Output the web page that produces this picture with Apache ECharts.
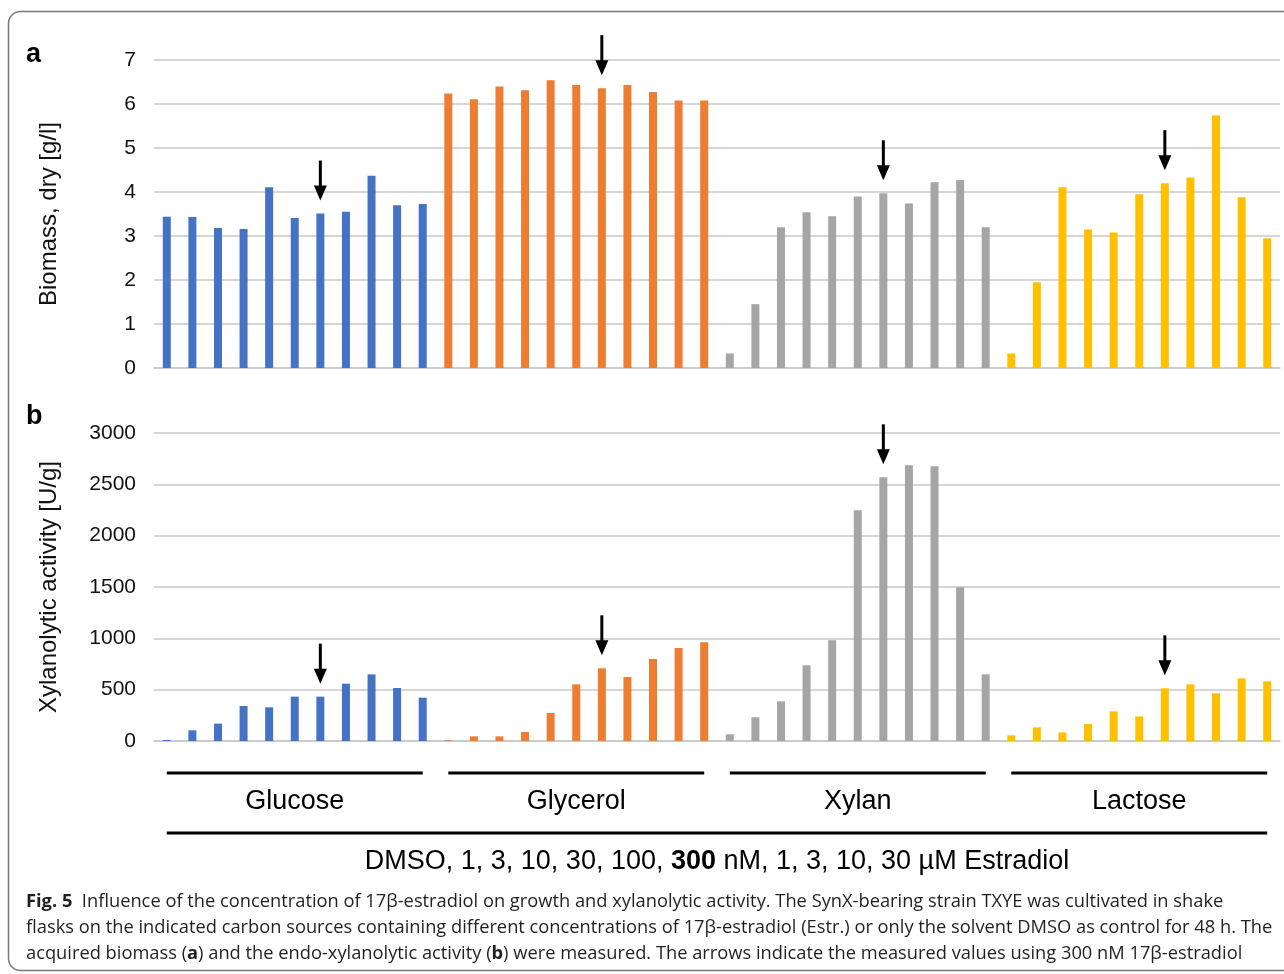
<!DOCTYPE html>
<html>
<head>
<meta charset="utf-8">
<script src="https://cdn.jsdelivr.net/npm/echarts@6/dist/echarts.min.js"></script>
<style>
  html, body { margin: 0; padding: 0; background: #fff; }
  #chart { width: 1284px; height: 974px; }
</style>
</head>
<body>
<div id="chart"></div>
<script>
// carbon sources and estradiol concentrations
const groups = ['Glucose', 'Glycerol', 'Xylan', 'Lactose'];
const concentrations = ['DMSO', '1 nM', '3 nM', '10 nM', '30 nM', '100 nM', '300 nM', '1 µM', '3 µM', '10 µM', '30 µM'];
const groupColors = ['#4472C4', '#ED7D31', '#A5A5A5', '#FFC000'];

// a) biomass, dry [g/l]
const biomassGlucose  = [3.44, 3.43, 3.18, 3.16, 4.11, 3.41, 3.51, 3.55, 4.37, 3.70, 3.73];
const biomassGlycerol = [6.24, 6.11, 6.40, 6.31, 6.54, 6.43, 6.36, 6.43, 6.27, 6.08, 6.08];
const biomassXylan    = [0.33, 1.45, 3.20, 3.54, 3.45, 3.90, 3.97, 3.74, 4.22, 4.27, 3.20];
const biomassLactose  = [0.33, 1.95, 4.11, 3.15, 3.08, 3.95, 4.20, 4.33, 5.74, 3.88, 2.95];

// b) xylanolytic activity [U/g]
const activityGlucose  = [10, 104, 169, 341, 328, 432, 432, 558, 649, 516, 422];
const activityGlycerol = [8, 45, 45, 88, 273, 552, 708, 623, 799, 906, 961];
const activityXylan    = [65, 231, 386, 737, 981, 2247, 2568, 2685, 2675, 1497, 649];
const activityLactose  = [55, 133, 84, 166, 289, 240, 513, 552, 464, 610, 581];

const biomassTicks = [0, 1, 2, 3, 4, 5, 6, 7];
const activityTicks = [0, 500, 1000, 1500, 2000, 2500, 3000];

const categories = [];
groups.forEach(g => concentrations.forEach(c => categories.push(g + ' ' + c)));
const biomass = [].concat(biomassGlucose, biomassGlycerol, biomassXylan, biomassLactose);
const activity = [].concat(activityGlucose, activityGlycerol, activityXylan, activityLactose);
const n = concentrations.length;
const markIdx = concentrations.indexOf('300 nM');

const arrowData = vals => groups.map((g, gi) => [gi * n + markIdx, vals[gi * n + markIdx]]);

const font = 'Liberation Sans, Arial, sans-serif';
const chart = echarts.init(document.getElementById('chart'));

function arrowItem(params, api) {
    const p = api.coord([api.value(0), api.value(1)]);
    const tip = p[1] - 13;
    return {
        type: 'group',
        children: [
            { type: 'line', shape: { x1: p[0], y1: tip - 40, x2: p[0], y2: tip - 12 }, style: { stroke: '#000', lineWidth: 3 } },
            { type: 'polygon', shape: { points: [[p[0] - 6.5, tip - 15], [p[0] + 6.5, tip - 15], [p[0], tip]] }, style: { fill: '#000' } }
        ]
    };
}

function yAxisFor(idx, name, ticks) {
    return {
        type: 'value',
        gridIndex: idx,
        min: ticks[0],
        max: ticks[ticks.length - 1],
        interval: ticks[1] - ticks[0],
        name: name,
        nameLocation: 'middle',
        nameGap: 93,
        nameTextStyle: { fontFamily: font, fontSize: 24, color: '#111' },
        axisLine: { show: false },
        axisTick: { show: false },
        axisLabel: { fontFamily: font, fontSize: 21, color: '#111', margin: 18, formatter: v => String(v) },
        splitLine: { lineStyle: { color: '#c8c8c8', width: 1.5 } }
    };
}

function xAxisFor(idx) {
    return {
        type: 'category',
        gridIndex: idx,
        data: categories,
        axisLine: { show: true, lineStyle: { color: '#c8c8c8', width: 1.5 } },
        axisTick: { show: false },
        axisLabel: { show: false }
    };
}

const colorOf = p => groupColors[Math.floor(p.dataIndex / n)];

chart.setOption({
    animation: false,
    grid: [
        { left: 154, right: 4, top: 60, height: 308 },
        { left: 154, right: 4, top: 433, height: 308 }
    ],
    xAxis: [xAxisFor(0), xAxisFor(1)],
    yAxis: [
        yAxisFor(0, 'Biomass, dry [g/l]', biomassTicks),
        yAxisFor(1, 'Xylanolytic activity [U/g]', activityTicks)
    ],
    series: [
        { type: 'bar', xAxisIndex: 0, yAxisIndex: 0, data: biomass, barWidth: 8, itemStyle: { color: colorOf } },
        { type: 'bar', xAxisIndex: 1, yAxisIndex: 1, data: activity, barWidth: 8, itemStyle: { color: colorOf } },
        { type: 'custom', xAxisIndex: 0, yAxisIndex: 0, data: arrowData(biomass), renderItem: arrowItem, clip: false, z: 5 },
        { type: 'custom', xAxisIndex: 1, yAxisIndex: 1, data: arrowData(activity), renderItem: arrowItem, clip: false, z: 5 }
    ]
});

// group brackets and labels under panel b
const px = i => chart.convertToPixel({ xAxisIndex: 1 }, i);
const graphic = [];
groups.forEach((g, gi) => {
    const x1 = px(gi * n), x2 = px(gi * n + n - 1);
    graphic.push({ type: 'line', shape: { x1: x1, y1: 773, x2: x2, y2: 773 }, style: { stroke: '#000', lineWidth: 3 } });
    graphic.push({ type: 'text', x: (x1 + x2) / 2, y: 802, style: { text: g, font: '27px ' + font, fill: '#000', align: 'center', verticalAlign: 'middle' } });
});
const xa = px(0), xb = px(categories.length - 1);
graphic.push({ type: 'line', shape: { x1: xa, y1: 833, x2: xb, y2: 833 }, style: { stroke: '#000', lineWidth: 3 } });
graphic.push({
    type: 'text', x: (xa + xb) / 2, y: 862,
    style: {
        text: 'DMSO, 1, 3, 10, 30, 100, {b|300} nM, 1, 3, 10, 30 µM Estradiol',
        font: '27px ' + font, fill: '#000', align: 'center', verticalAlign: 'middle',
        rich: { b: { fontFamily: font, fontSize: 27, fontWeight: 'bold', fill: '#000' } }
    }
});

// panel letters
graphic.push({ type: 'text', x: 26, y: 55, style: { text: 'a', font: 'bold 27px ' + font, fill: '#000', verticalAlign: 'middle' } });
graphic.push({ type: 'text', x: 26, y: 417, style: { text: 'b', font: 'bold 27px ' + font, fill: '#000', verticalAlign: 'middle' } });

// frame
graphic.push({ type: 'rect', shape: { x: 8.5, y: 11.5, width: 1300, height: 959, r: 12 }, style: { fill: 'none', stroke: '#777', lineWidth: 1.5 }, z: -1 });

// caption
const capFont = 'Open Sans, sans-serif';
const capSize = 18.3;
const capRich = { b: { fontFamily: capFont, fontSize: capSize, fontWeight: 'bold', fill: '#231f20' } };
const caption = [
    '{b|Fig. 5}  Influence of the concentration of 17β-estradiol on growth and xylanolytic activity. The SynX-bearing strain TXYE was cultivated in shake',
    'flasks on the indicated carbon sources containing different concentrations of 17β-estradiol (Estr.) or only the solvent DMSO as control for 48 h. The',
    'acquired biomass ({b|a}) and the endo-xylanolytic activity ({b|b}) were measured. The arrows indicate the measured values using 300 nM 17β-estradiol'
];
caption.forEach((t, i) => {
    graphic.push({ type: 'text', x: 26, y: 902 + i * 26, style: { text: t, font: capSize + 'px ' + capFont, fill: '#231f20', verticalAlign: 'middle', rich: capRich } });
});

chart.setOption({ graphic: graphic });
</script>
</body>
</html>
